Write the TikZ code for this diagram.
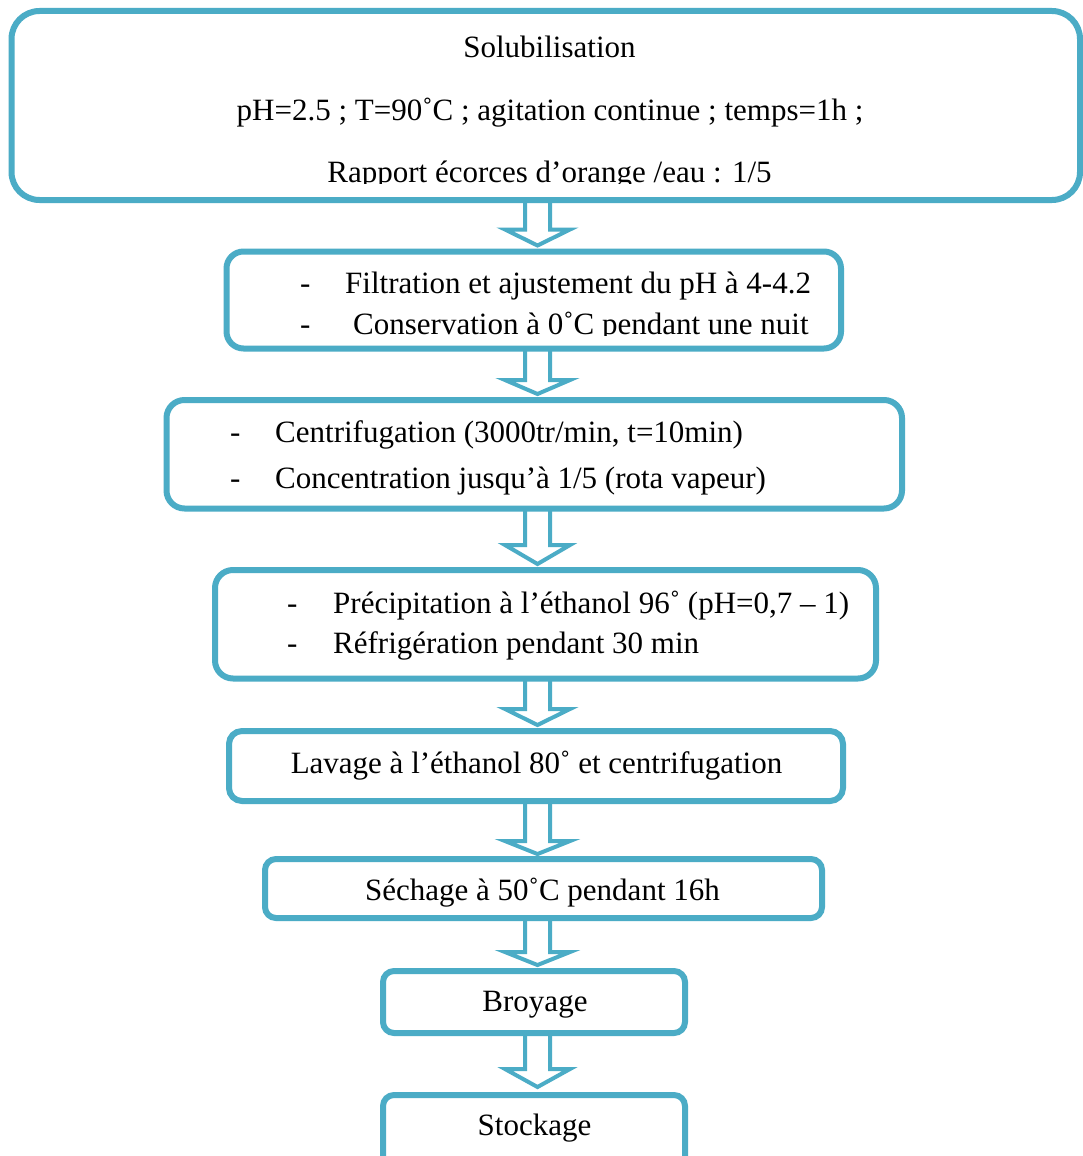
\documentclass[tikz,border=0pt]{standalone}
\usepackage{fontspec}
\setmainfont{Liberation Serif}
\usetikzlibrary{calc}
\definecolor{aqua}{HTML}{4BACC6}
\tikzset{
  box/.style={draw=aqua, line width=6pt, inner sep=0pt, rectangle},
  arrowline/.style={draw=aqua, line width=4pt, line join=miter},
  txtl/.style={inner sep=0pt, anchor=base west, font=\fontsize{31}{37}\selectfont},
  txtc/.style={inner sep=0pt, anchor=base, font=\fontsize{31}{37}\selectfont},
}
\newcommand\flowarrow[4]{%
  \draw[arrowline] let \p1=(#1.south), \p2=(#2.north) in
    (525pt,\y1+3pt) -- (525pt,\y2+#3pt+#4pt) -- (505pt,\y2+#3pt+#4pt)
    -- (537.5pt,\y2+#3pt) -- (570pt,\y2+#3pt+#4pt) -- (550pt,\y2+#3pt+#4pt)
    -- (550pt,\y1+3pt) -- cycle;}
\begin{document}
\begin{tikzpicture}[x=1pt,y=-1pt]
\useasboundingbox (0,0) rectangle (1083,1156);
\clip (0,0) rectangle (1083,1156);
\fill[white] (0,0) rectangle (1083,1156);

% boxes
\node[box, rounded corners=28pt, minimum width=1068.5pt, minimum height=189pt] (b1) at (545.75,105.5) {};
\node[box, rounded corners=17pt, minimum width=614.5pt, minimum height=97pt] (b2) at (533.75,300) {};
\node[box, rounded corners=18pt, minimum width=735.5pt, minimum height=108.5pt] (b3) at (534.25,454.25) {};
\node[box, rounded corners=18pt, minimum width=661pt, minimum height=108.5pt] (b4) at (545.5,624.25) {};
\node[box, rounded corners=13pt, minimum width=614pt, minimum height=70pt] (b5) at (536,766) {};
\node[box, rounded corners=11pt, minimum width=557pt, minimum height=59pt] (b6) at (543.5,888.5) {};
\node[box, rounded corners=11pt, minimum width=302pt, minimum height=62pt] (b7) at (534,1002) {};
\node[box, rounded corners=11pt, minimum width=302pt, minimum height=75pt] (b8) at (534,1132.5) {};

% texts box 1 (clipped like the original)
\begin{scope}
\clip (0,0) rectangle (1083,183);
\node[txtc] (t1a) at (549.5,58) {Solubilisation};
\node[txtc] (t1b) at (550,120) {pH=2.5 ; T=90˚C ; agitation continue ; temps=1h ;};
\node[txtc] (t1c) at (549.5,182) {Rapport écorces d’orange /eau : 1/5};
\end{scope}

% texts box 2
\begin{scope}
\clip (0,240) rectangle (1083,335);
\node[txtl] (d2a) at (300,293) {-};
\node[txtl] (t2a) at (345,293) {Filtration et ajustement du pH à 4-4.2};
\node[txtl] (d2b) at (300,334) {-};
\node[txtl] (t2b) at (353,334) {Conservation à 0˚C pendant une nuit};
\end{scope}

% texts box 3
\node[txtl] (d3a) at (230,442) {-};
\node[txtl] (t3a) at (275,442) {Centrifugation (3000tr/min, t=10min)};
\node[txtl] (d3b) at (230,488) {-};
\node[txtl] (t3b) at (275,488) {Concentration jusqu’à 1/5 (rota vapeur)};

% texts box 4
\node[txtl] (d4a) at (287,613) {-};
\node[txtl] (t4a) at (333,613) {Précipitation à l’éthanol 96˚ (pH=0,7 – 1)};
\node[txtl] (d4b) at (287,653) {-};
\node[txtl] (t4b) at (333,653) {Réfrigération pendant 30 min};

% single-line boxes
\node[txtc] (t5) at (536.5,773) {Lavage à l’éthanol 80˚ et centrifugation};
\node[txtc] (t6) at (542.5,900) {Séchage à 50˚C pendant 16h};
\node[txtc] (t7) at (535,1011) {Broyage};
\node[txtc] (t8) at (534.5,1135) {Stockage};

% block arrows
\flowarrow{b1}{b2}{3}{16}
\flowarrow{b2}{b3}{3}{14}
\flowarrow{b3}{b4}{3}{19}
\flowarrow{b4}{b5}{3}{16}
\flowarrow{b5}{b6}{2}{13}
\flowarrow{b6}{b7}{3}{13}
\flowarrow{b7}{b8}{5}{18}
\end{tikzpicture}
\end{document}
